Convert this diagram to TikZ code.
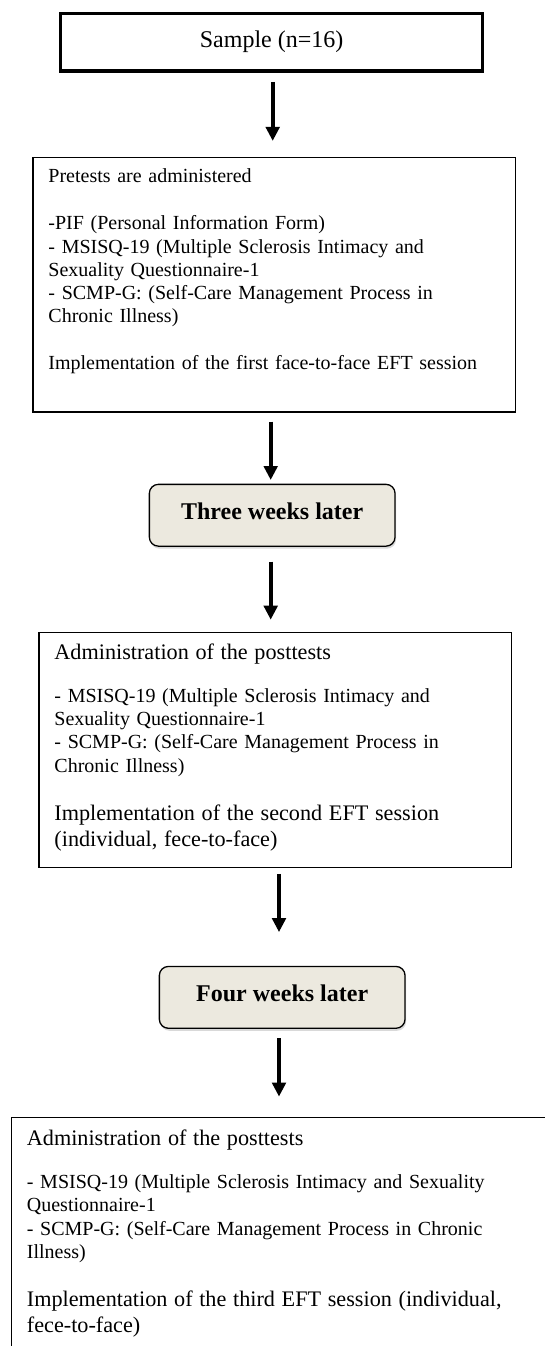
\documentclass[tikz,border=0pt]{standalone}
\usepackage{fontspec}
\setmainfont{Liberation Serif}
\usetikzlibrary{arrows.meta,positioning,shadows}

\definecolor{waitfill}{HTML}{ECE9DF}
\newcommand{\smalltxt}{\fontsize{20pt}{23.3pt}\selectfont}
\newcommand{\bigtxt}{\fontsize{22.2pt}{25.7pt}\selectfont}

\begin{document}
\begin{tikzpicture}[>={Triangle[length=14pt,width=13.5pt]}, flow/.style={->, line width=4pt},
		topbox/.style={rectangle, draw, line width=3.5pt, minimum width=421.8pt, inner ysep=0pt, text height=34.4pt, text depth=23.3pt, font=\fontsize{24pt}{28pt}\selectfont},
		info/.style={rectangle, draw, line width=1.3pt, inner xsep=15.5pt, inner ysep=0pt, align=left, font=\smalltxt},
		wait/.style={rectangle, draw, rounded corners=9pt, line width=1.3pt, fill=waitfill, drop shadow={shadow xshift=1pt, shadow yshift=-2.5pt, opacity=0.3}, minimum width=245.7pt, inner ysep=0pt, text height=35.3pt, text depth=26.5pt, font=\fontsize{24pt}{28pt}\selectfont\bfseries}]
	\useasboundingbox (0,0) rectangle (544pt,-1346pt);

	\node[topbox]  (sample) at (271.6pt,-42.2pt) {Sample (n=16)};
	\node[info, below=84.1pt of sample, xshift=2.6pt, text width=451.5pt, text height=25.2pt, text depth=229.3pt] (pretest)
		{Pretests are administered\\[23.7pt]
		-PIF (Personal Information Form)\\
		- MSISQ-19 (Multiple Sclerosis Intimacy and\\
		Sexuality Questionnaire-1\\
		- SCMP-G: (Self-Care Management Process in\\
		Chronic Illness)\\[23.7pt]
		Implementation of the first face-to-face EFT session};
	\node[wait, below=71pt of pretest, xshift=-2pt]  (three) {Three weeks later};
	\node[info, below=84.7pt of three, xshift=3.1pt, text width=441.7pt, text height=27.4pt, text depth=207.6pt] (second)
		{{\bigtxt Administration of the posttests\par}
		\vspace{19.3pt}
		- MSISQ-19 (Multiple Sclerosis Intimacy and\\
		Sexuality Questionnaire-1\\
		- SCMP-G: (Self-Care Management Process in\\
		Chronic Illness)\par
		\vspace{22.7pt}
		{\bigtxt Implementation of the second EFT session\\
		(individual, fece-to-face)\par}};
	\node[wait, below=98pt of second, xshift=6.9pt]  (four) {Four weeks later};
	\node[info, below=87.7pt of four, xshift=14.7pt, text width=540pt, text height=27.8pt, text depth=250pt] (third)
		{{\bigtxt Administration of the posttests\par}
		\vspace{20.3pt}
		- MSISQ-19 (Multiple Sclerosis Intimacy and Sexuality\\
		Questionnaire-1\\
		- SCMP-G: (Self-Care Management Process in Chronic\\
		Illness)\par
		\vspace{22.7pt}
		{\bigtxt Implementation of the third EFT session (individual,\\
		fece-to-face)\par}};

	\draw[flow, shorten <=9pt, shorten >=16pt] ([xshift=1.1pt]sample.south) -- ([xshift=1.1pt]sample.south |- pretest.north);
	\draw[flow, shorten <=9pt, shorten >=3.7pt] ([xshift=-3.5pt]pretest.south) -- ([xshift=-3.5pt]pretest.south |- three.north);
	\draw[flow, shorten <=14.7pt, shorten >=11.8pt] ([xshift=-1.5pt]three.south) -- ([xshift=-1.5pt]three.south |- second.north);
	\draw[flow, shorten <=6pt, shorten >=33.7pt] ([xshift=3.7pt]second.south) -- ([xshift=3.7pt]second.south |- four.north);
	\draw[flow, shorten <=9.4pt, shorten >=20pt] ([xshift=-3.2pt]four.south) -- ([xshift=-3.2pt]four.south |- third.north);
\end{tikzpicture}
\end{document}
